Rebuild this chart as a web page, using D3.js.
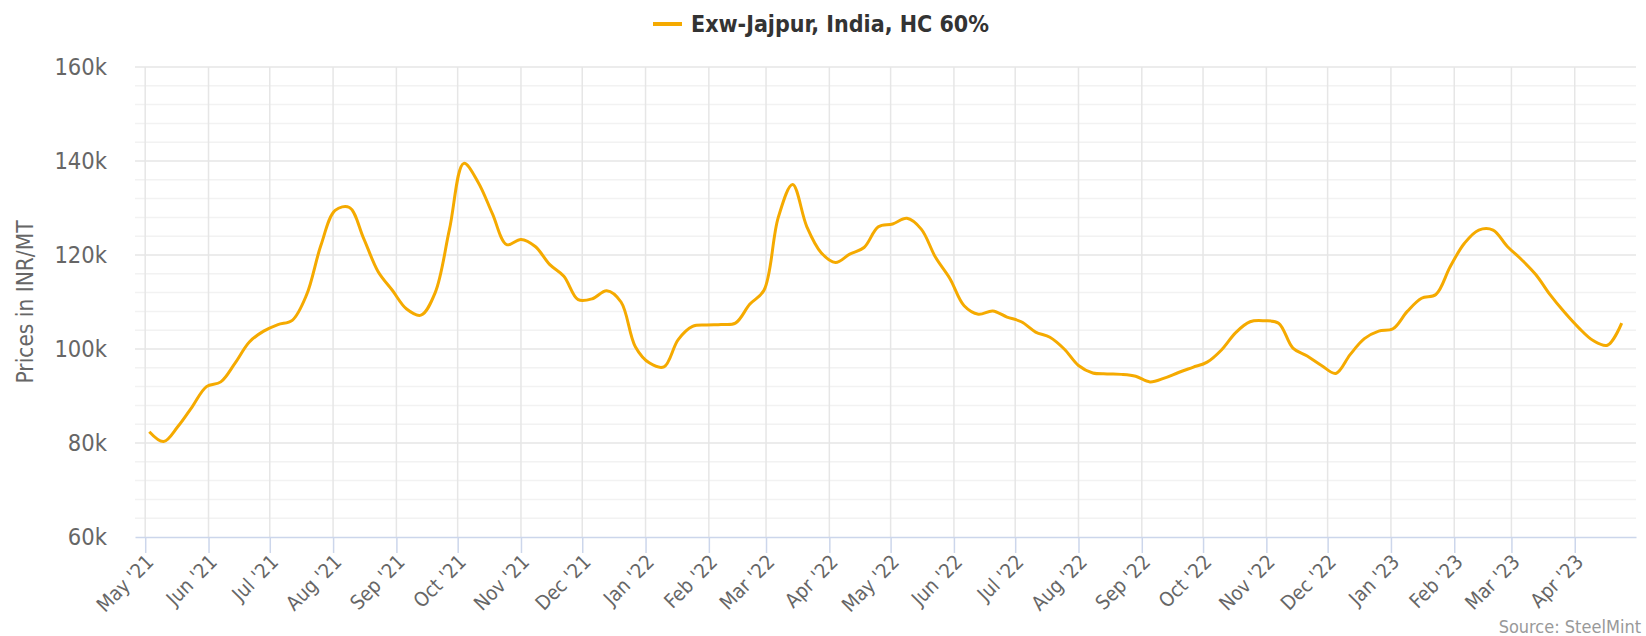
<!DOCTYPE html>
<html>
<head>
<meta charset="utf-8">
<script src="https://cdn.jsdelivr.net/npm/d3@7"></script>
<style>
body { margin: 0; background: #fff; }
text { font-family: "DejaVu Sans", Verdana, sans-serif; font-stretch: condensed; }
</style>
</head>
<body>
<div id="chart"></div>
<script>
// weekly prices, INR/MT (in thousands)
var weeks = [
	"2021-05-03","2021-05-10","2021-05-17","2021-05-24","2021-05-31",
	"2021-06-07","2021-06-14","2021-06-21","2021-06-28",
	"2021-07-05","2021-07-12","2021-07-19","2021-07-26",
	"2021-08-02","2021-08-09","2021-08-16","2021-08-23","2021-08-30",
	"2021-09-06","2021-09-13","2021-09-20","2021-09-27",
	"2021-10-04","2021-10-11","2021-10-18","2021-10-25",
	"2021-11-01","2021-11-08","2021-11-15","2021-11-22","2021-11-29",
	"2021-12-06","2021-12-13","2021-12-20","2021-12-27",
	"2022-01-03","2022-01-10","2022-01-17","2022-01-24","2022-01-31",
	"2022-02-07","2022-02-14","2022-02-21","2022-02-28",
	"2022-03-07","2022-03-14","2022-03-21","2022-03-28",
	"2022-04-04","2022-04-11","2022-04-18","2022-04-25",
	"2022-05-02","2022-05-09","2022-05-16","2022-05-23","2022-05-30",
	"2022-06-06","2022-06-13","2022-06-20","2022-06-27",
	"2022-07-04","2022-07-11","2022-07-18","2022-07-25",
	"2022-08-01","2022-08-08","2022-08-15","2022-08-22","2022-08-29",
	"2022-09-05","2022-09-12","2022-09-19","2022-09-26",
	"2022-10-03","2022-10-10","2022-10-17","2022-10-24","2022-10-31",
	"2022-11-07","2022-11-14","2022-11-21","2022-11-28",
	"2022-12-05","2022-12-12","2022-12-19","2022-12-26",
	"2023-01-02","2023-01-09","2023-01-16","2023-01-23","2023-01-30",
	"2023-02-06","2023-02-13","2023-02-20","2023-02-27",
	"2023-03-06","2023-03-13","2023-03-20","2023-03-27",
	"2023-04-03","2023-04-10","2023-04-17","2023-04-24"
];
var prices = [
	82.4, 80.3, 83.5, 87.7, 92.0,
	93.0, 97.0, 101.5, 103.8,
	105.2, 106.1, 111.5, 122.0,
	129.5, 130.1, 123.5, 116.5, 112.5,
	108.5, 107.2, 112.0, 125.5,
	139.5, 135.5, 128.8, 122.2,
	123.3, 121.8, 118.0, 115.5, 110.5,
	110.7, 112.4, 110.0, 100.5,
	97.0, 96.2, 102.0, 104.8, 105.1,
	105.2, 105.5, 109.5, 112.5,
	128.0, 135.0, 126.0, 120.5,
	118.4, 120.2, 121.6, 126.0,
	126.6, 127.8, 125.5, 119.5, 115.0,
	109.2, 107.4, 108.1, 106.8,
	105.8, 103.6, 102.5, 100.0,
	96.5, 94.9, 94.7, 94.6, 94.2,
	93.0, 93.8, 95.0, 96.1,
	97.2, 99.8, 103.5, 105.8, 106.0,
	105.5, 100.2, 98.5, 96.5,
	94.8, 98.8, 102.2, 103.8,
	104.3, 108.0, 110.8, 111.6, 117.5,
	122.5, 125.3, 125.3, 121.8,
	119.0, 115.8, 111.5, 107.8,
	104.5, 101.8, 100.8, 105.5
];
var monthTicks = [
	"2021-05","2021-06","2021-07","2021-08","2021-09","2021-10","2021-11","2021-12",
	"2022-01","2022-02","2022-03","2022-04","2022-05","2022-06","2022-07","2022-08",
	"2022-09","2022-10","2022-11","2022-12","2023-01","2023-02","2023-03","2023-04"
];
var yTicks = [60, 80, 100, 120, 140, 160];
var seriesName = "Exw-Jajpur, India, HC 60%";
var yTitle = "Prices in INR/MT";
var sourceText = "Source: SteelMint";

var w = 1646, h = 636;
var plotL = 135, plotR = 1636, plotT = 67, plotB = 537;
var lineColor = "#f5aa00";

var parseDay = d3.timeParse("%Y-%m-%d");
var parseMonth = d3.timeParse("%Y-%m");
var fmtMonth = d3.timeFormat("%b '%y");

var data = weeks.map(function(d, i) { return {date: parseDay(d), value: prices[i]}; });
var tickDates = monthTicks.map(parseMonth);

var svg = d3.select("#chart").append("svg")
	.attr("width", w)
	.attr("height", h);

var xScale = d3.scaleTime()
	.domain([parseDay("2021-04-26"), parseDay("2023-05-01")])
	.range([plotL, plotR]);

var yScale = d3.scaleLinear()
	.domain([60, 160])
	.range([plotB, plotT]);

// minor horizontal grid
var minor = d3.range(64, 160, 4).filter(function(v) { return yTicks.indexOf(v) < 0; });
svg.append("g").selectAll("line").data(minor).enter().append("line")
	.attr("x1", plotL).attr("x2", plotR)
	.attr("y1", function(d) { return yScale(d); })
	.attr("y2", function(d) { return yScale(d); })
	.attr("stroke", "#f2f2f2").attr("stroke-width", 1.5);

// major horizontal grid
svg.append("g").selectAll("line").data(yTicks.slice(1)).enter().append("line")
	.attr("x1", plotL).attr("x2", plotR)
	.attr("y1", function(d) { return yScale(d); })
	.attr("y2", function(d) { return yScale(d); })
	.attr("stroke", "#e6e6e6").attr("stroke-width", 1.5);

// vertical grid
svg.append("g").selectAll("line").data(tickDates).enter().append("line")
	.attr("x1", function(d) { return xScale(d); })
	.attr("x2", function(d) { return xScale(d); })
	.attr("y1", plotT).attr("y2", plotB)
	.attr("stroke", "#e6e6e6").attr("stroke-width", 1.5);

// x axis
var xAxis = d3.axisBottom(xScale)
	.tickValues(tickDates)
	.tickFormat(fmtMonth)
	.tickSize(16)
	.tickSizeOuter(0);

var gx = svg.append("g")
	.attr("transform", "translate(0," + plotB + ")")
	.call(xAxis);
gx.select(".domain").attr("stroke", "#ccd6eb").attr("stroke-width", 1.5);
gx.selectAll(".tick line").attr("stroke", "#ccd6eb").attr("stroke-width", 1.5);
gx.selectAll(".tick text")
	.attr("fill", "#666")
	.style("font-size", "20px")
	.attr("text-anchor", "end")
	.attr("dy", "0.3em")
	.attr("y", 0)
	.attr("transform", "translate(5,22) rotate(-45)");

// y axis
var yAxis = d3.axisLeft(yScale)
	.tickValues(yTicks)
	.tickFormat(function(d) { return d + "k"; })
	.tickSize(0)
	.tickPadding(0);

var gy = svg.append("g")
	.attr("transform", "translate(107,0)")
	.call(yAxis);
gy.select(".domain").remove();
gy.selectAll(".tick text")
	.attr("fill", "#666")
	.style("font-size", "23.5px");

svg.append("text")
	.attr("transform", "translate(33," + ((plotT + plotB) / 2) + ") rotate(-90)")
	.attr("text-anchor", "middle")
	.attr("fill", "#666")
	.style("font-size", "22.5px")
	.text(yTitle);

// series line
svg.append("path")
	.datum(data)
	.attr("fill", "none")
	.attr("stroke", lineColor)
	.attr("stroke-width", 3)
	.attr("stroke-linejoin", "round")
	.attr("d", d3.line()
		.curve(d3.curveCatmullRom.alpha(0.5))
		.x(function(d) { return xScale(d.date); })
		.y(function(d) { return yScale(d.value); })
	);

// legend
var legend = svg.append("g").attr("transform", "translate(653,24)");
legend.append("line")
	.attr("x1", 0).attr("x2", 29)
	.attr("stroke", lineColor).attr("stroke-width", 4);
legend.append("text")
	.attr("x", 38).attr("dy", "0.36em")
	.attr("fill", "#333")
	.style("font-size", "23px")
	.style("font-weight", "bold")
	.text(seriesName);

// credits
svg.append("text")
	.attr("x", 1641).attr("y", 633)
	.attr("text-anchor", "end")
	.attr("fill", "#999")
	.style("font-size", "18px")
	.text(sourceText);
</script>
</body>
</html>
